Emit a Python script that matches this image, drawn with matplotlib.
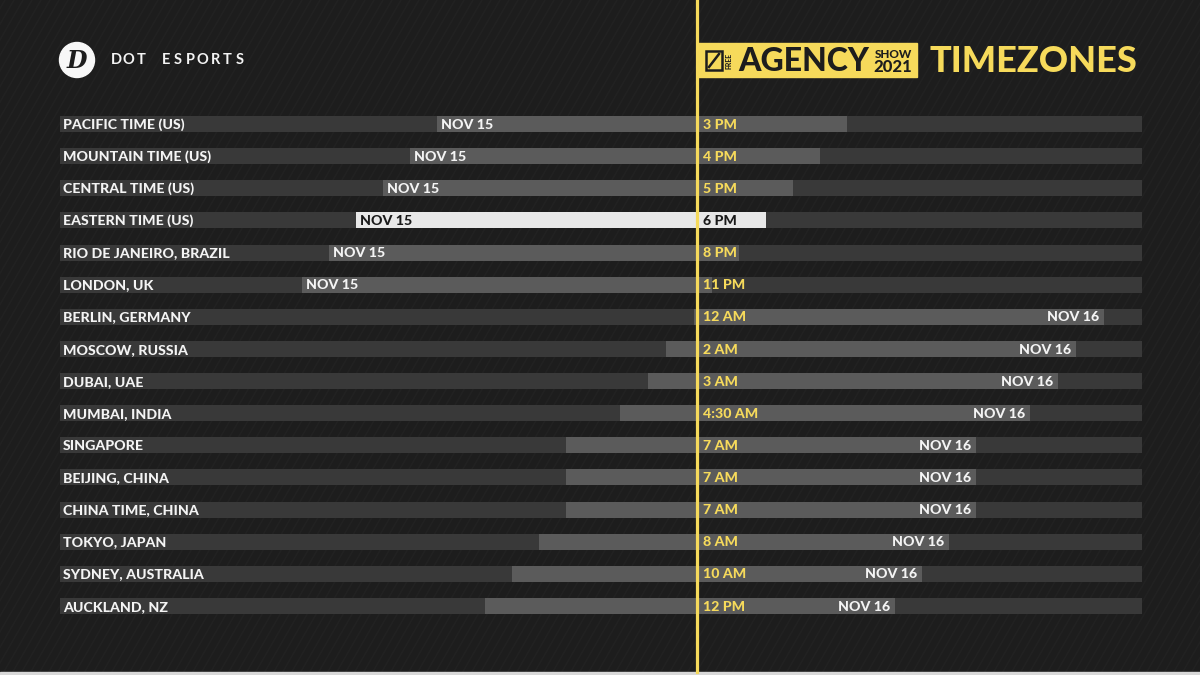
import matplotlib
matplotlib.use("Agg")
import matplotlib.pyplot as plt
from matplotlib.patches import Rectangle, Circle
import numpy as np

# ---------------- data ----------------
zones = ["PACIFIC TIME (US)", "MOUNTAIN TIME (US)", "CENTRAL TIME (US)", "EASTERN TIME (US)",
         "RIO DE JANEIRO, BRAZIL", "LONDON, UK", "BERLIN, GERMANY", "MOSCOW, RUSSIA",
         "DUBAI, UAE", "MUMBAI, INDIA", "SINGAPORE", "BEIJING, CHINA", "CHINA TIME, CHINA",
         "TOKYO, JAPAN", "SYDNEY, AUSTRALIA", "AUCKLAND, NZ"]
local_times = ["3 PM", "4 PM", "5 PM", "6 PM", "8 PM", "11 PM", "12 AM", "2 AM", "3 AM",
               "4:30 AM", "7 AM", "7 AM", "7 AM", "8 AM", "10 AM", "12 PM"]
dates = ["NOV 15"] * 6 + ["NOV 16"] * 10
# start of the lighter "day" segment relative to the show-start line (chart units)
seg_start = [-260, -287, -314, -341, -368, -395, -3, -31, -49, -77,
             -131, -131, -131, -158, -185, -212]
seg_width = [410] * 16
highlight = "EASTERN TIME (US)"

# ---------------- style ----------------
BG = "#1d1d1d"
TRACK = "#393939"
SEG = "#5b5b5b"
HL = "#e8e8e8"
YEL = "#f6da5b"
WHITE = "#f4f4f4"
FONT = "Lato"
WT = 900

W, H = 1200, 675
fig = plt.figure(figsize=(W / 100, H / 100), dpi=100, facecolor=BG)

# overlay axes in pixel space for background/header decoration
deco = fig.add_axes([0, 0, 1, 1])
deco.set_xlim(0, W)
deco.set_ylim(H, 0)
deco.axis("off")
deco.add_patch(Rectangle((0, 0), W, H, color=BG, zorder=0))
# faint diagonal texture
for x0 in np.arange(-700, 1300, 9):
    deco.plot([x0, x0 + 390], [H, 0], color="#ffffff", alpha=0.018, lw=1.2, zorder=1)
# bottom light edge
deco.add_patch(Rectangle((0, 672), W, 3, color="#d8d8d8", zorder=1))

# main chart axes
ax = fig.add_axes([0, 0, 1, 1], facecolor="none")
n = len(zones)
row_px0, row_step = 124.0, 32.13
ax.set_ylim((H - row_px0) / row_step, (0 - row_px0) / row_step)
ax.set_xlim(-697, W - 697)
ax.axis("off")

y = np.arange(n)
track_left, track_right = -637, 445
bar_h = 16 / row_step
ax.barh(y, [track_right - track_left] * n, left=track_left, height=bar_h,
        color=TRACK, zorder=2)
seg_colors = [HL if z == highlight else SEG for z in zones]
ax.barh(y, seg_width, left=seg_start, height=bar_h, color=seg_colors, zorder=3)

ax.axvline(0, color=YEL, lw=2.3, zorder=6, ymin=0.004, ymax=1)

fs = 10.2
for i, z in enumerate(zones):
    hl = z == highlight
    ax.text(track_left + 3, i + 0.02, z, color=WHITE, fontsize=fs, fontweight=WT,
            family=FONT, va="center", ha="left", zorder=7)
    ax.text(6, i + 0.02, local_times[i], color="#1a1a1a" if hl else YEL, fontsize=fs,
            fontweight=WT, family=FONT, va="center", ha="left", zorder=7)
    if dates[i] == "NOV 15":
        ax.text(seg_start[i] + 4, i + 0.02, dates[i], color="#1a1a1a" if hl else WHITE,
                fontsize=fs, fontweight=WT, family=FONT, va="center",
                ha="left", zorder=7)
    else:
        ax.text(seg_start[i] + seg_width[i] - 5, i + 0.02, dates[i], color=WHITE,
                fontsize=fs, fontweight=WT, family=FONT, va="center",
                ha="right", zorder=7)

# ---------------- header ----------------
deco.add_patch(Circle((77, 60), 17.5, color="#f7f7f7", zorder=5))
deco.text(77, 61, "D", color="#1d1d1d", fontsize=17, family="DejaVu Serif",
          fontweight="bold", fontstyle="italic", ha="center", va="center", zorder=6)
for k, ch in enumerate("DOT ESPORTS"):
    deco.text(116 + k * 12.4, 60, ch, color=WHITE, fontsize=10.5, family=FONT,
              fontweight="bold", ha="center", va="center", zorder=6)

# free agency show badge
deco.add_patch(Rectangle((697, 43), 220, 34, color=YEL, zorder=5))
deco.add_patch(Rectangle((706, 51), 16, 19, fill=False, ec="#1d1d1d", lw=1.8, zorder=6))
deco.plot([709, 719], [67, 54], color="#1d1d1d", lw=1.8, zorder=6)
deco.text(729.5, 60.5, "FREE", color="#1d1d1d", fontsize=5, family=FONT,
          fontweight=WT, rotation=90, ha="center", va="center", zorder=6)
deco.text(738, 61.5, "AGENCY", color="#1d1d1d", fontsize=23, family=FONT,
          fontweight=WT, ha="left", va="center", zorder=6)
deco.text(893, 54, "SHOW", color="#1d1d1d", fontsize=8.5, family=FONT,
          fontweight=WT, ha="center", va="center", zorder=6)
deco.text(893, 67.5, "2021", color="#1d1d1d", fontsize=12, family=FONT,
          fontweight=WT, ha="center", va="center", zorder=6)
deco.text(930, 61.5, "TIMEZONES", color=YEL, fontsize=26, family=FONT,
          fontweight=WT, ha="left", va="center", zorder=6)

fig.savefig("out.png", dpi=100, facecolor=BG)
